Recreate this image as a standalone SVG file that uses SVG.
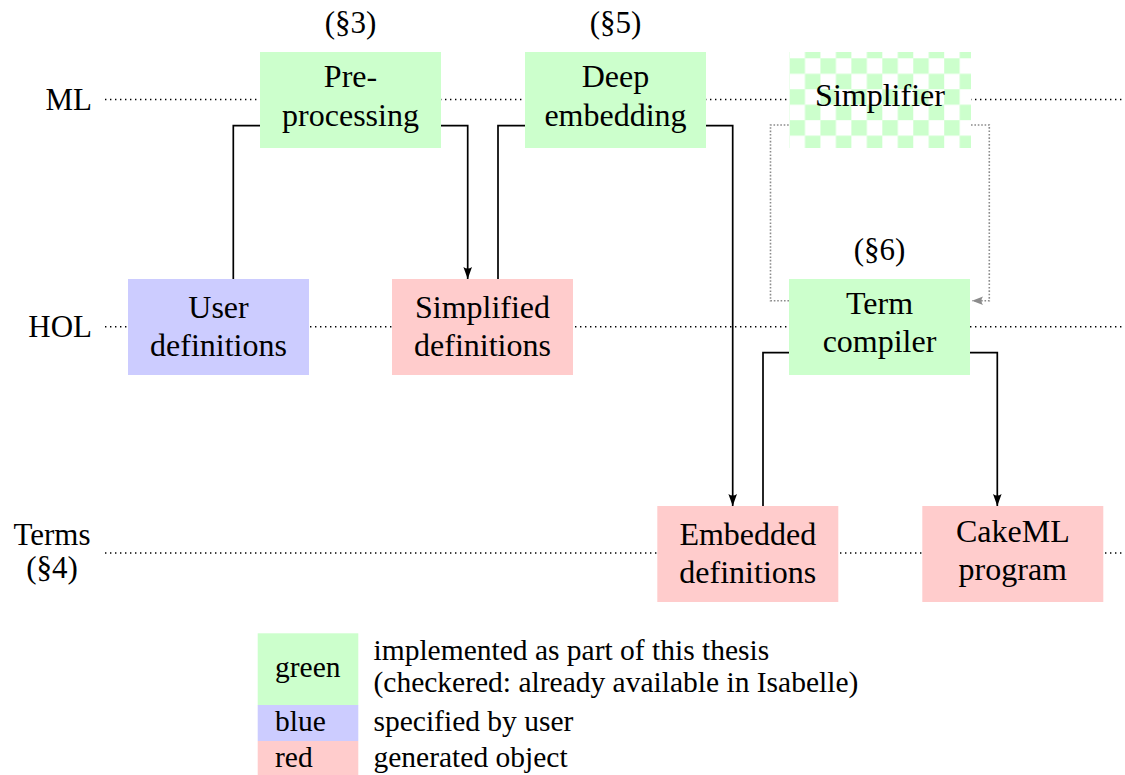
<svg xmlns="http://www.w3.org/2000/svg" width="1125" height="775" viewBox="0 0 1125 775">
  <style>
    text { font-family: "Liberation Serif", "Times New Roman", serif; font-size: 31px; fill: #000; }
    .c { text-anchor: middle; }
    .r { text-anchor: end; }
    .n { font-size: 32px; }
    .leg { font-size: 29.5px; }
    .lvl { fill: none; stroke: #000; stroke-width: 1.4; stroke-dasharray: 1.4 3.6; }
    .edge { fill: none; stroke: #000; stroke-width: 1.7; }
    .dep { fill: none; stroke: #8c8c8c; stroke-width: 1.6; stroke-dasharray: 1.6 1.8; }
    .green { fill: #ccffcc; }
    .blue { fill: #ccccff; }
    .red { fill: #ffcccc; }
  </style>
  <defs>
    <pattern id="checker" patternUnits="userSpaceOnUse" x="789.5" y="58.3" width="30.94" height="30.94">
      <rect width="30.94" height="30.94" fill="#ffffff"/>
      <rect width="15.47" height="15.47" fill="#ccffcc"/>
      <rect x="15.47" y="15.47" width="15.47" height="15.47" fill="#ccffcc"/>
    </pattern>
    <marker id="arrow" markerUnits="userSpaceOnUse" viewBox="-13 -6 14 12" refX="0" refY="0" markerWidth="14" markerHeight="12" orient="auto">
      <path d="M0,0 L-12,-4.3 Q-9,0 -12,4.3 Z" fill="#000"/>
    </marker>
    <marker id="arrow-grey" markerUnits="userSpaceOnUse" viewBox="-13 -6 14 12" refX="0" refY="0" markerWidth="14" markerHeight="12" orient="auto">
      <path d="M0,0 L-11,-4.2 Q-8,0 -11,4.2 Z" fill="#8c8c8c"/>
    </marker>
  </defs>

  <!-- level guides -->
  <g id="levels">
    <text class="r" x="92" y="110">ML</text>
    <line class="lvl" x1="105" y1="99.5" x2="1125" y2="99.5"/>
    <text class="r" x="92" y="337">HOL</text>
    <line class="lvl" x1="105" y1="326.7" x2="1125" y2="326.7"/>
    <text class="c" x="52" y="545">Terms</text>
    <text class="c" x="52" y="578">(§4)</text>
    <line class="lvl" x1="105" y1="553" x2="1125" y2="553"/>
  </g>

  <!-- connectors -->
  <g id="connectors">
    <path class="edge" d="M233.3,279 V125.7 H260"/>
    <path class="edge" d="M441,125.7 H467.7 V279" marker-end="url(#arrow)"/>
    <path class="edge" d="M498,279 V125.7 H525"/>
    <path class="edge" d="M706,125.7 H732.7 V506" marker-end="url(#arrow)"/>
    <path class="edge" d="M763,506 V352.7 H789"/>
    <path class="edge" d="M970,352.7 H997.3 V506" marker-end="url(#arrow)"/>
    <path class="dep" d="M789,300.7 H770.5 V125 H789"/>
    <path class="dep" d="M971,125 H989.3 V300.7 H972" marker-end="url(#arrow-grey)"/>
  </g>

  <!-- nodes -->
  <g id="preprocessing">
    <rect class="green" x="260" y="52" width="181" height="96"/>
    <text class="c n" x="350.5" y="87.3">Pre-</text>
    <text class="c n" x="350.5" y="126">processing</text>
    <text class="c" x="350.5" y="33">(§3)</text>
  </g>
  <g id="deep-embedding">
    <rect class="green" x="525" y="52" width="181" height="96"/>
    <text class="c n" x="615.5" y="87.3">Deep</text>
    <text class="c n" x="615.5" y="126">embedding</text>
    <text class="c" x="615.5" y="33">(§5)</text>
  </g>
  <g id="simplifier">
    <rect x="789.3" y="52" width="181.7" height="96" fill="url(#checker)"/>
    <text class="c n" x="880" y="106">Simplifier</text>
  </g>
  <g id="user-definitions">
    <rect class="blue" x="128" y="279" width="181" height="96"/>
    <text class="c n" x="218.5" y="318.3">User</text>
    <text class="c n" x="218.5" y="355.5">definitions</text>
  </g>
  <g id="simplified-definitions">
    <rect class="red" x="392" y="279" width="181" height="96"/>
    <text class="c n" x="482.5" y="318.3">Simplified</text>
    <text class="c n" x="482.5" y="355.5">definitions</text>
  </g>
  <g id="term-compiler">
    <rect class="green" x="789" y="279" width="181" height="96"/>
    <text class="c n" x="879.5" y="314.3">Term</text>
    <text class="c n" x="879.5" y="352">compiler</text>
    <text class="c" x="879.5" y="260">(§6)</text>
  </g>
  <g id="embedded-definitions">
    <rect class="red" x="657.3" y="506" width="181" height="96"/>
    <text class="c n" x="747.8" y="545">Embedded</text>
    <text class="c n" x="747.8" y="583.3">definitions</text>
  </g>
  <g id="cakeml-program">
    <rect class="red" x="922.3" y="506" width="181" height="96"/>
    <text class="c n" x="1012.8" y="541.7">CakeML</text>
    <text class="c n" x="1012.8" y="580">program</text>
  </g>

  <!-- legend -->
  <g id="legend">
    <rect class="green" x="257.7" y="633.3" width="100.6" height="71.9"/>
    <rect class="blue" x="257.7" y="705" width="100.6" height="36"/>
    <rect class="red" x="257.7" y="741" width="100.6" height="34"/>
    <text class="leg" x="275" y="676.7">green</text>
    <text class="leg" x="275" y="731">blue</text>
    <text class="leg" x="275" y="766.7">red</text>
    <text class="leg" x="373.5" y="660">implemented as part of this thesis</text>
    <text class="leg" x="373.5" y="691.7">(checkered: already available in Isabelle)</text>
    <text class="leg" x="373.5" y="731">specified by user</text>
    <text class="leg" x="373.5" y="766.7">generated object</text>
  </g>
</svg>
